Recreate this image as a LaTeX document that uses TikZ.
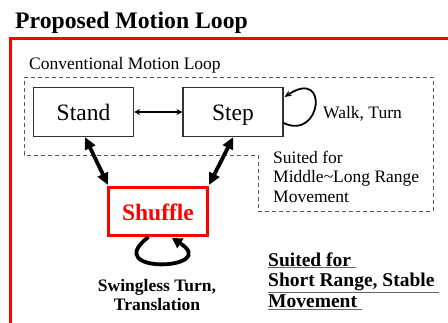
\documentclass[tikz,border=0pt]{standalone}
\usepackage{fontspec}
\setmainfont{Liberation Serif}
\usetikzlibrary{arrows.meta}
\newcommand\grayul[1]{\rlap{\color{black!60}\underline{\phantom{#1}}}#1}
\tikzset{
  statebox/.style={draw=black!80, line width=1.1pt, minimum width=100pt, minimum height=49pt, inner sep=0pt, text height=17pt, text depth=0pt, font=\fontsize{23.5}{26}\selectfont},
  redbox/.style={draw=red, line width=3pt, minimum width=99pt, minimum height=48pt, inner sep=0pt, text=red, text height=17pt, text depth=0pt, font=\fontsize{23.5}{26}\selectfont\bfseries},
  lbl/.style={inner sep=0pt, font=\fontsize{17.5}{19.5}\selectfont, align=left},
  thinarrow/.style={line width=1.2pt, {Stealth[length=6pt,width=6pt]}-{Stealth[length=6pt,width=6pt]}},
  bigarrow/.style={line width=3.8pt, {Triangle[length=12pt,width=11pt]}-{Triangle[length=12pt,width=11pt]}},
  looparrow/.style={line width=1.8pt, -{Stealth[length=7pt,width=6pt]}},
  bigloop/.style={line width=3.8pt, -{Triangle[length=10pt,width=11pt]}}
}
\begin{document}
\begin{tikzpicture}[x=1pt,y=-1pt]
\clip (0,0) rectangle (448,322);
% title
\node[inner sep=0pt, anchor=base west, font=\fontsize{23.7}{26}\selectfont\bfseries] (title) at (15,28) {Proposed Motion Loop};
% red frame
\draw[red, line width=3pt] (10.5,340) -- (10.5,38) -- (470,38);
% dashed region
\draw[black!65, line width=0.9pt, dash pattern=on 4pt off 3pt]
  (24,77) -- (433,77) -- (433,211) -- (258,211) -- (258,155) -- (24,155) -- cycle;
\node[lbl, anchor=base west] (conv) at (29,69) {Conventional Motion Loop};
% boxes
\node[statebox] (stand) at (83.5,112) {Stand};
\node[statebox] (step) at (233,112) {Step};
\node[redbox] (shuffle) at (158,211.5) {Shuffle};
% connectors
\draw[thinarrow] (stand) -- (step);
\draw[bigarrow] ([xshift=1.5pt]stand.south) -- ([xshift=1pt,yshift=1pt]shuffle.north west);
\draw[bigarrow] ([xshift=0.3pt]step.south) -- ([yshift=1pt]shuffle.north east);
\draw[looparrow] ([yshift=-11pt]step.east) .. controls +(38,18) and +(45,-30) .. ([xshift=1pt,yshift=15pt]step.east);
\draw[bigloop] ([xshift=-9.5pt]shuffle.south) .. controls +(-50,38) and +(50,32) .. ([xshift=14pt,yshift=-1pt]shuffle.south);
% labels
\node[lbl, anchor=base west] (walk) at (323,118) {Walk, Turn};
\node[lbl, anchor=base west] (mid) at (273,202) {Suited for\\Middle\char`\~Long Range\\Movement};
\node[inner sep=0pt, anchor=base, align=center, font=\fontsize{17.5}{18.5}\selectfont\bfseries] (swing) at (157,310) {Swingless Turn,\\Translation};
\node[inner sep=0pt, anchor=base west, align=left, font=\fontsize{19.5}{20.7}\selectfont\bfseries] (short) at (268,307.4) {\grayul{Suited for\ }\\\grayul{Short Range, Stable\ }\\\grayul{Movement\ }};
\end{tikzpicture}
\end{document}
